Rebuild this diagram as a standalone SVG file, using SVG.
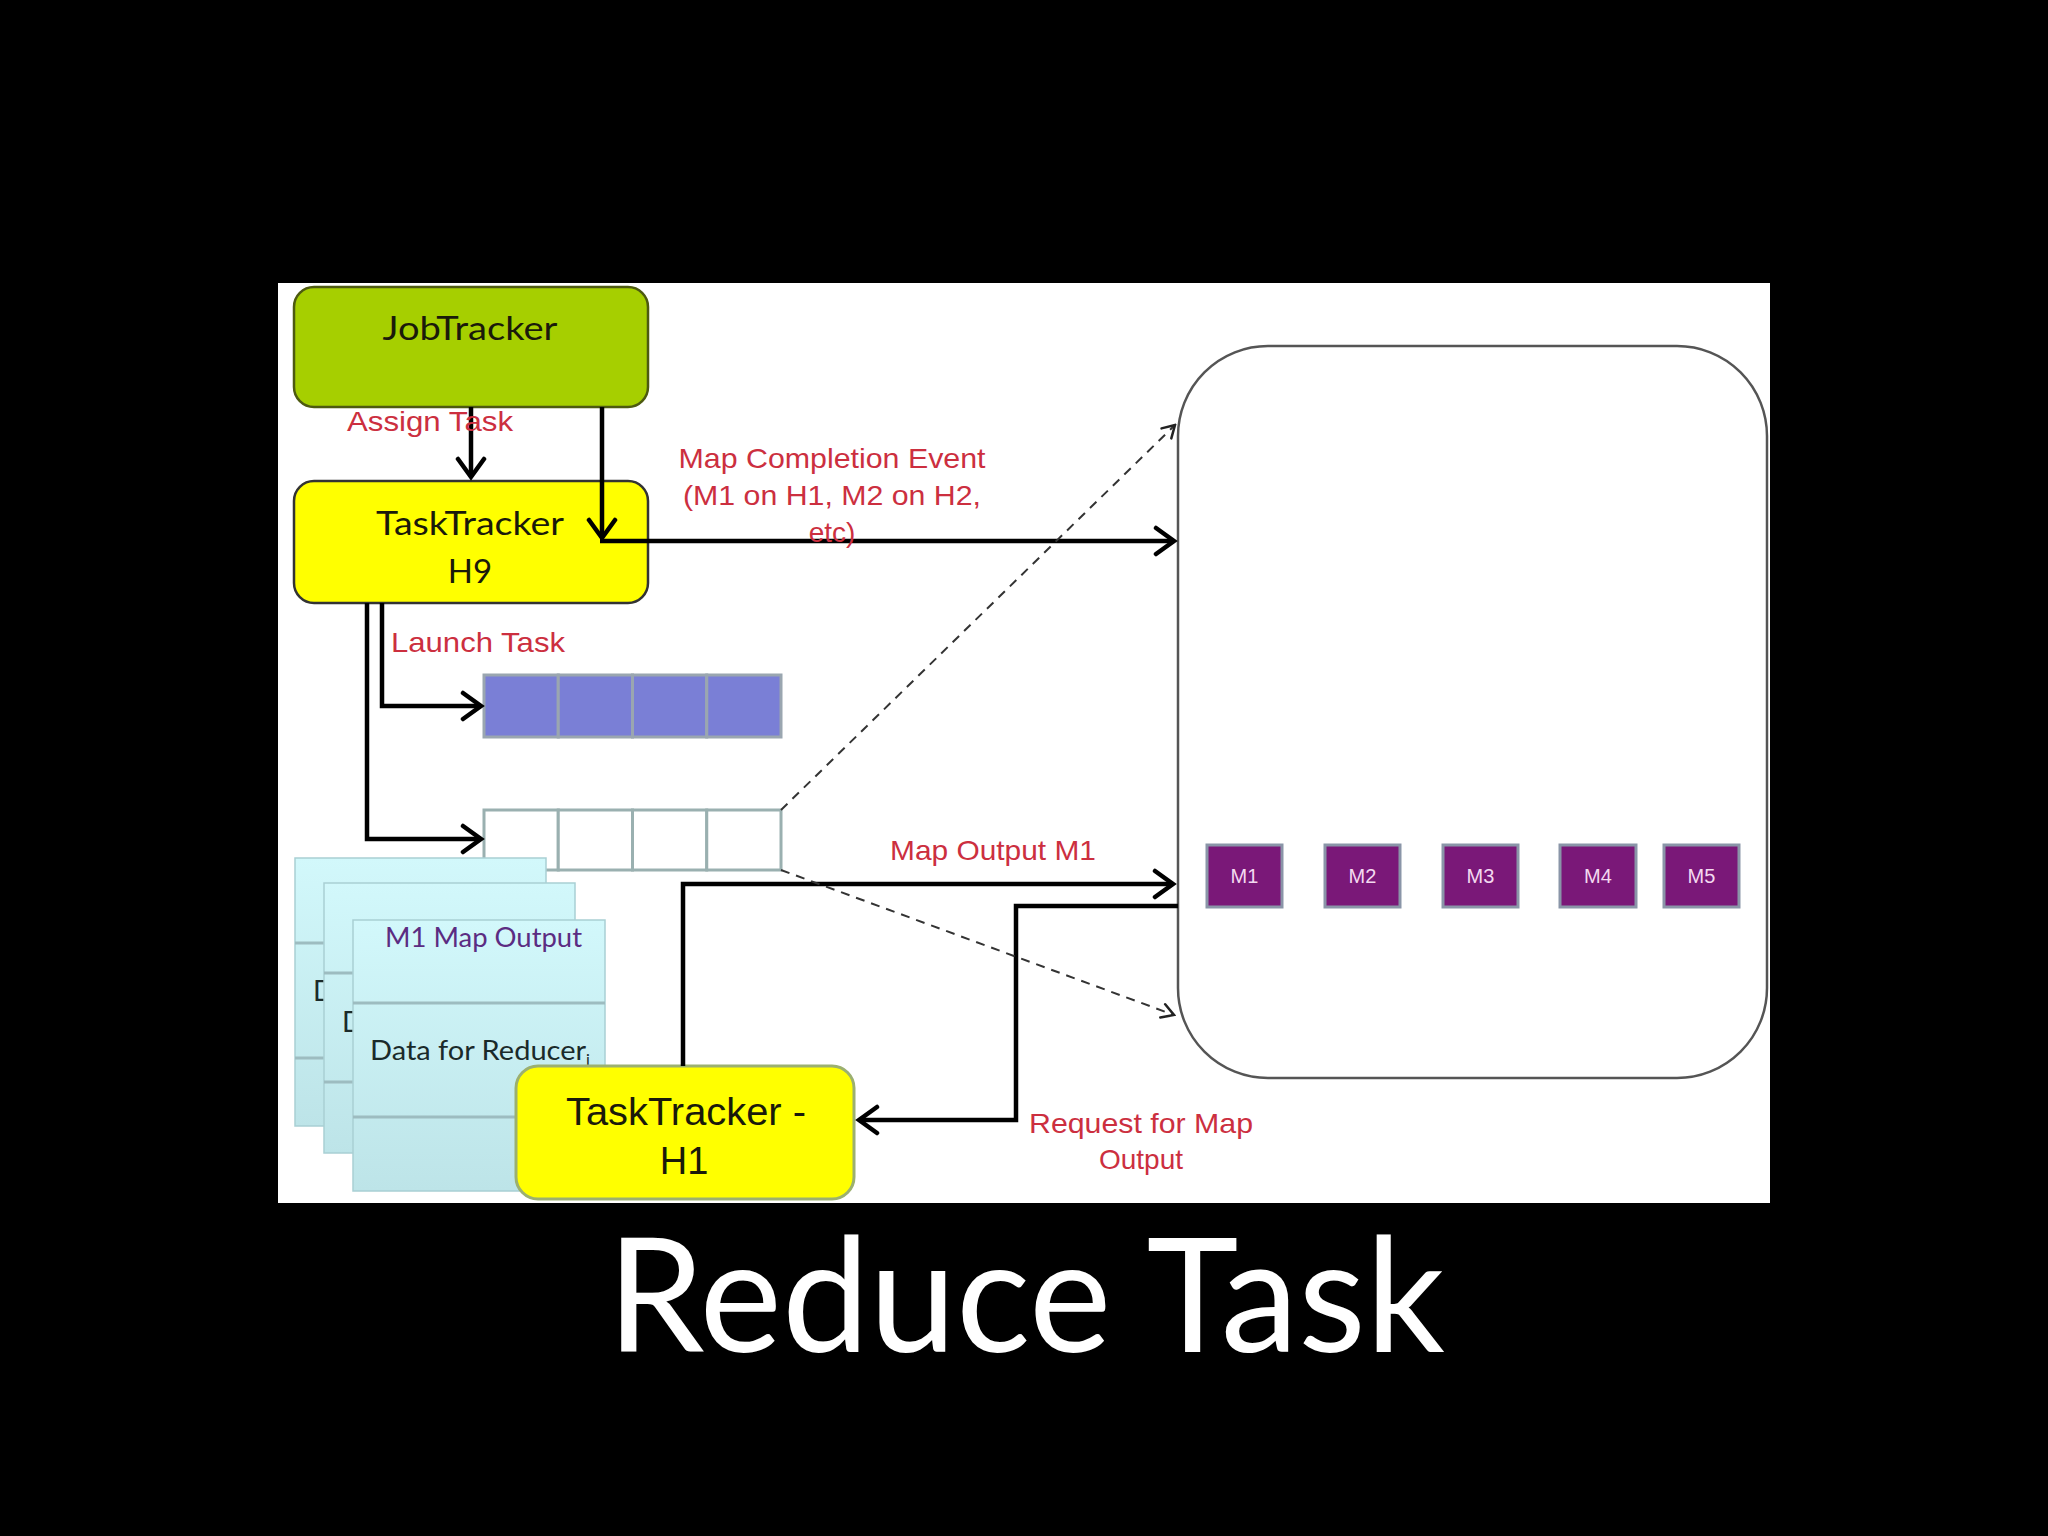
<svg xmlns="http://www.w3.org/2000/svg" width="2048" height="1536" viewBox="0 0 2048 1536">
<defs>
<style>
.lbl{font-family:"Liberation Sans",Arial,sans-serif;font-size:28px;fill:#cc2f3f}
.cal{font-family:Lato,"Open Sans",sans-serif}
.conn{fill:none;stroke:#000;stroke-width:4.5;stroke-linejoin:miter}
.dash{fill:none;stroke:#333;stroke-width:2;stroke-dasharray:9 7}
.slot rect{fill:#7a1878;stroke:#8a95a8;stroke-width:3}
.slot text{font-family:"Liberation Sans",Arial,sans-serif;font-size:20px;fill:#f3d9f0;text-anchor:middle}
.blue{fill:#7a7fd6;stroke:#9aa6b0;stroke-width:3}
.empty{fill:#fff;stroke:#9ab0b0;stroke-width:3}
.page{fill:url(#pg);stroke:#a9cfd4;stroke-width:1.5}
.div{stroke:#9dbcc0;stroke-width:3}
</style>
<linearGradient id="pg" x1="0" y1="0" x2="0" y2="1">
<stop offset="0" stop-color="#d2f8fb"/>
<stop offset="1" stop-color="#bde4e8"/>
</linearGradient>
<marker id="ah" viewBox="-22 -16 26 32" refX="0" refY="0" markerWidth="26" markerHeight="32" markerUnits="userSpaceOnUse" orient="auto">
<path d="M-18,-13 L0,0 L-18,13" fill="none" stroke="#000" stroke-width="4.5" stroke-linecap="round" stroke-linejoin="miter"/>
</marker>
<marker id="ahd" viewBox="-16 -10 18 20" refX="0" refY="0" markerWidth="18" markerHeight="20" markerUnits="userSpaceOnUse" orient="auto">
<path d="M-12,-7 L0,0 L-12,7" fill="none" stroke="#222" stroke-width="2.5" stroke-linecap="round"/>
</marker>
</defs>

<rect x="0" y="0" width="2048" height="1536" fill="#000"/>
<rect x="278" y="283" width="1492" height="920" fill="#fff"/>

<g id="reducer-host">
<rect x="1178" y="346" width="589" height="732" rx="90" ry="90" fill="#fff" stroke="#555" stroke-width="2.5"/>
</g>

<g id="map-slots">
<g id="slot-m1" class="slot"><rect x="1207" y="845" width="75" height="62"/><text x="1244.5" y="883">M1</text></g>
<g id="slot-m2" class="slot"><rect x="1325" y="845" width="75" height="62"/><text x="1362.5" y="883">M2</text></g>
<g id="slot-m3" class="slot"><rect x="1443" y="845" width="75" height="62"/><text x="1480.5" y="883">M3</text></g>
<g id="slot-m4" class="slot"><rect x="1560" y="845" width="76" height="62"/><text x="1598" y="883">M4</text></g>
<g id="slot-m5" class="slot"><rect x="1664" y="845" width="75" height="62"/><text x="1701.5" y="883">M5</text></g>
</g>

<g id="jobtracker">
<rect x="294" y="287" width="354" height="120" rx="20" ry="20" fill="#a6cf00" stroke="#4d5a10" stroke-width="2.5"/>
<text class="cal" x="470" y="340" font-size="33" fill="#1a1a0a" text-anchor="middle" textLength="175" lengthAdjust="spacingAndGlyphs">JobTracker</text>
</g>

<g id="tasktracker-h9">
<rect x="294" y="481" width="354" height="122" rx="20" ry="20" fill="#ffff00" stroke="#333" stroke-width="2.5"/>
<text class="cal" x="470" y="535" font-size="33" fill="#1a1a0a" text-anchor="middle" textLength="188" lengthAdjust="spacingAndGlyphs">TaskTracker</text>
<text class="cal" x="470" y="583" font-size="33" fill="#1a1a0a" text-anchor="middle">H9</text>
</g>

<g id="queue-running">
<rect class="blue" x="484" y="675" width="74.25" height="62"/>
<rect class="blue" x="558.25" y="675" width="74.25" height="62"/>
<rect class="blue" x="632.5" y="675" width="74.25" height="62"/>
<rect class="blue" x="706.75" y="675" width="74.25" height="62"/>
</g>

<g id="queue-empty">
<rect class="empty" x="484" y="810" width="74.25" height="60"/>
<rect class="empty" x="558.25" y="810" width="74.25" height="60"/>
<rect class="empty" x="632.5" y="810" width="74.25" height="60"/>
<rect class="empty" x="706.75" y="810" width="74.25" height="60"/>
</g>

<g id="map-output-pages">
<g id="page-back">
<rect class="page" x="295" y="858" width="251" height="268"/>
<line class="div" x1="295" y1="943" x2="546" y2="943"/>
<line class="div" x1="295" y1="1058" x2="546" y2="1058"/>
<text class="cal" x="313" y="1001" font-size="28" fill="#1a2a2a">D</text>
</g>
<g id="page-middle">
<rect class="page" x="324" y="883" width="251" height="270"/>
<line class="div" x1="324" y1="973" x2="575" y2="973"/>
<line class="div" x1="324" y1="1082" x2="575" y2="1082"/>
<text class="cal" x="342" y="1032" font-size="28" fill="#1a2a2a">D</text>
</g>
<g id="page-front">
<rect class="page" x="353" y="920" width="252" height="271"/>
<line class="div" x1="353" y1="1003" x2="605" y2="1003"/>
<line class="div" x1="353" y1="1117" x2="605" y2="1117"/>
<text class="cal" x="385" y="947" font-size="27" fill="#5b2c82" textLength="197" lengthAdjust="spacingAndGlyphs">M1 Map Output</text>
<text class="cal" x="370" y="1060" font-size="27" fill="#1a2a2a"><tspan textLength="216" lengthAdjust="spacingAndGlyphs">Data for Reducer</tspan><tspan font-size="16" dy="5">i</tspan></text>
</g>
</g>

<g id="tasktracker-h1">
<rect x="516" y="1066" width="338" height="133" rx="22" ry="22" fill="#ffff00" stroke="#9cb070" stroke-width="3"/>
<text x="686" y="1125" font-family="Liberation Sans,Arial,sans-serif" font-size="38" fill="#1a1a0a" text-anchor="middle" textLength="240" lengthAdjust="spacingAndGlyphs">TaskTracker -</text>
<text x="684" y="1174" font-family="Liberation Sans,Arial,sans-serif" font-size="38" fill="#1a1a0a" text-anchor="middle">H1</text>
</g>

<g id="connectors">
<path class="conn" d="M471,407 V477" marker-end="url(#ah)"/>
<path class="conn" d="M602,407 V538" marker-end="url(#ah)"/>
<path class="conn" d="M600,541 H1174" marker-end="url(#ah)"/>
<path class="conn" d="M382,603 V706 H481" marker-end="url(#ah)"/>
<path class="conn" d="M367,603 V839 H481" marker-end="url(#ah)"/>
<path class="conn" d="M683,1066 V884 H1173" marker-end="url(#ah)"/>
<path class="conn" d="M1178,906 H1016 V1120 H859" marker-end="url(#ah)"/>
<path class="dash" d="M781,810 L1175,425" marker-end="url(#ahd)"/>
<path class="dash" d="M781,870 L1174,1015" marker-end="url(#ahd)"/>
</g>

<g id="labels">
<text class="lbl" x="347" y="431" textLength="166" lengthAdjust="spacingAndGlyphs">Assign Task</text>
<text class="lbl" x="832" y="468" text-anchor="middle" textLength="307" lengthAdjust="spacingAndGlyphs">Map Completion Event</text>
<text class="lbl" x="832" y="505" text-anchor="middle" textLength="298" lengthAdjust="spacingAndGlyphs">(M1 on H1, M2 on H2,</text>
<text class="lbl" x="832" y="542" text-anchor="middle">etc)</text>
<text class="lbl" x="391" y="652" textLength="174" lengthAdjust="spacingAndGlyphs">Launch Task</text>
<text class="lbl" x="993" y="860" text-anchor="middle" textLength="206" lengthAdjust="spacingAndGlyphs">Map Output M1</text>
<text class="lbl" x="1141" y="1133" text-anchor="middle" textLength="224" lengthAdjust="spacingAndGlyphs">Request for Map</text>
<text class="lbl" x="1141" y="1169" text-anchor="middle">Output</text>
</g>

<text x="1026" y="1352" font-family="Lato,'Open Sans',sans-serif" font-size="160" fill="#fff" text-anchor="middle" textLength="838" lengthAdjust="spacingAndGlyphs">Reduce Task</text>
</svg>
